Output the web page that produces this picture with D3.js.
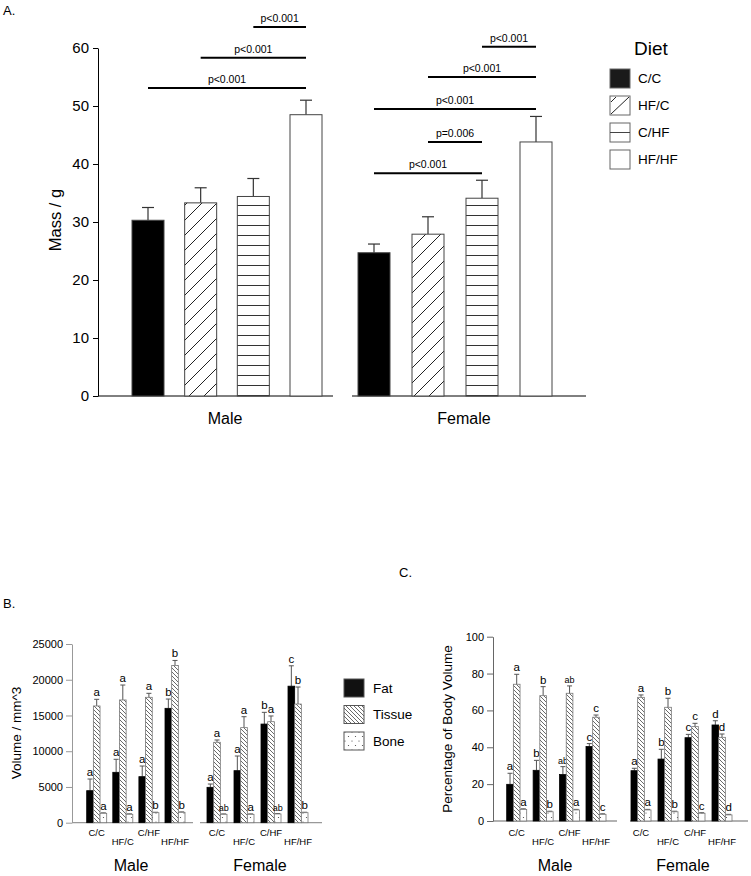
<!DOCTYPE html>
<html><head><meta charset="utf-8">
<script src="https://cdn.jsdelivr.net/npm/d3@7"></script>
<style>body{margin:0;background:#fff} svg{font-family:"Liberation Sans",Arial,sans-serif;display:block}</style>
</head><body><svg id="c" width="751" height="876"></svg>
<script>
// ---------- DATA ----------
const diets = ["C/C","HF/C","C/HF","HF/HF"];
const sexes = ["Male","Female"];
const components = ["Fat","Tissue","Bone"];

// Panel A: body mass (g)
const massMale = [30.3, 33.3, 34.4, 48.5];
const massMaleErr = [2.2, 2.6, 3.1, 2.5];
const massFemale = [24.7, 27.9, 34.1, 43.8];
const massFemaleErr = [1.5, 3.0, 3.1, 4.4];
const massTicks = [0, 10, 20, 30, 40, 50, 60];
// [from, to, label, level (g)]
const sigMale = [["C/HF","HF/HF","p<0.001",63.6],["HF/C","HF/HF","p<0.001",58.3],["C/C","HF/HF","p<0.001",53.1]];
const sigFemale = [["C/HF","HF/HF","p<0.001",60.2],["HF/C","HF/HF","p<0.001",55.0],["C/C","HF/HF","p<0.001",49.5],["HF/C","C/HF","p=0.006",43.8],["C/C","C/HF","p<0.001",38.4]];

// Panel B: volume (mm^3)
const volMaleFat = [4480, 7050, 6440, 16000];
const volMaleFatErr = [1630, 1820, 1490, 1300];
const volMaleTissue = [16330, 17170, 17540, 22000];
const volMaleTissueErr = [930, 2090, 560, 700];
const volMaleBone = [1315, 1175, 1400, 1450];
const volMaleBoneErr = [60, 60, 60, 60];
const volFemaleFat = [4950, 7280, 13800, 19100];
const volFemaleFatErr = [460, 2050, 1640, 2850];
const volFemaleTissue = [11250, 13300, 14130, 16600];
const volFemaleTissueErr = [320, 1530, 800, 2380];
const volFemaleBone = [1170, 1170, 1220, 1400];
const volFemaleBoneErr = [60, 60, 60, 60];
const volTicks = [0, 5000, 10000, 15000, 20000, 25000];
const volLetMaleFat = ["a","a","a","b"], volLetMaleTissue = ["a","a","a","b"], volLetMaleBone = ["a","a","b","b"];
const volLetFemaleFat = ["a","a","b","c"], volLetFemaleTissue = ["a","a","a","b"], volLetFemaleBone = ["ab","a","ab","b"];

// Panel C: percentage of body volume
const pctMaleFat = [19.9, 27.5, 25.2, 40.4];
const pctMaleFatErr = [6.0, 5.4, 4.3, 1.6];
const pctMaleTissue = [74.2, 68.0, 69.3, 56.3];
const pctMaleTissueErr = [5.4, 4.9, 4.0, 1.2];
const pctMaleBone = [6.3, 5.0, 6.0, 3.6];
const pctMaleBoneErr = [0.3, 0.3, 0.3, 0.3];
const pctFemaleFat = [27.3, 33.6, 45.2, 52.1];
const pctFemaleFatErr = [1.3, 5.3, 1.8, 2.3];
const pctFemaleTissue = [67.1, 61.7, 51.2, 45.4];
const pctFemaleTissueErr = [1.3, 4.9, 1.8, 1.8];
const pctFemaleBone = [6.0, 5.0, 4.2, 3.3];
const pctFemaleBoneErr = [0.3, 0.3, 0.3, 0.3];
const pctTicks = [0, 20, 40, 60, 80, 100];
const pctLetMaleFat = ["a","b","ab","c"], pctLetMaleTissue = ["a","b","ab","c"], pctLetMaleBone = ["a","b","a","c"];
const pctLetFemaleFat = ["a","b","c","d"], pctLetFemaleTissue = ["a","b","c","d"], pctLetFemaleBone = ["a","b","c","d"];

// ---------- SETUP ----------
const svg = d3.select("#c");
svg.append("rect").attr("width",751).attr("height",876).attr("fill","#fff");
const defs = svg.append("defs");
function pattern(id,w,h){const p=defs.append("pattern").attr("id",id).attr("patternUnits","userSpaceOnUse").attr("width",w).attr("height",h);p.append("rect").attr("width",w).attr("height",h).attr("fill","#fff");return p;}
pattern("diagA",15,15).append("path").attr("d","M0,15L15,0M-2,2L2,-2M13,17L17,13").attr("stroke","#222").attr("stroke-width",1);
pattern("horA",10,10).append("path").attr("d","M0,5.5H10").attr("stroke","#333").attr("stroke-width",1);
pattern("tis",4,4).append("path").attr("d","M0,0L4,4M-1,3L1,5M3,-1L5,1").attr("stroke","#444").attr("stroke-width",0.8);
const pd = pattern("dots",7,9);
pd.append("circle").attr("cx",2).attr("cy",3).attr("r",0.6).attr("fill","#444");
pd.append("circle").attr("cx",5.5).attr("cy",7.5).attr("r",0.6).attr("fill","#444");

function txt(g,x,y,s,size,anchor){return g.append("text").attr("x",x).attr("y",y).attr("font-size",size).attr("text-anchor",anchor||"start").attr("fill","#000").text(s);}

// ---------- PANEL A ----------
const gA = svg.append("g");
txt(gA,3,15,"A.",13);
const yA = d3.scaleLinear().domain([0,60]).range([396,48]);
const xA = {Male: d3.scalePoint().domain(diets).range([148,306]), Female: d3.scalePoint().domain(diets).range([374,536])};
const fillsA = ["#000","url(#diagA)","url(#horA)","#fff"];
const massData = {Male:[massMale,massMaleErr], Female:[massFemale,massFemaleErr]};
const axA = gA.append("g").attr("transform","translate(98,0)").call(d3.axisLeft(yA).tickValues(massTicks).tickSize(5).tickSizeOuter(0).tickPadding(4));
axA.selectAll("text").attr("font-size",15).attr("font-family","Liberation Sans, Arial");
axA.selectAll("line,path").attr("stroke","#000");
gA.append("text").attr("transform","translate(55,220) rotate(-90)").attr("text-anchor","middle").attr("dy","0.35em").attr("font-size",16.5).text("Mass / g");
const baseA = {Male:[98,333], Female:[352,586]};
const sexLabelA = {Male:225, Female:464};
sexes.forEach(s=>{
  const [vals,errs]=massData[s]; const x=xA[s];
  gA.append("line").attr("x1",baseA[s][0]).attr("x2",baseA[s][1]).attr("y1",yA(0)).attr("y2",yA(0)).attr("stroke","#000").attr("stroke-width",1);
  diets.forEach((d,i)=>{
    const cx=x(d);
    gA.append("line").attr("x1",cx).attr("x2",cx).attr("y1",yA(vals[i])).attr("y2",yA(vals[i]+errs[i])).attr("stroke","#333").attr("stroke-width",1.2);
    gA.append("line").attr("x1",cx-6).attr("x2",cx+6).attr("y1",yA(vals[i]+errs[i])).attr("y2",yA(vals[i]+errs[i])).attr("stroke","#333").attr("stroke-width",1.2);
    gA.append("rect").attr("x",cx-16).attr("y",yA(vals[i])).attr("width",32).attr("height",yA(0)-yA(vals[i])).attr("fill",fillsA[i]).attr("stroke","#444").attr("stroke-width",1);
  });
  txt(gA,sexLabelA[s],424,s,16,"middle");
});
const sigs = {Male:sigMale, Female:sigFemale};
sexes.forEach(s=>{
  const x=xA[s];
  sigs[s].forEach(([a,b,lab,lev])=>{
    const x1=x(a), x2=x(b), yy=yA(lev);
    gA.append("line").attr("x1",x1).attr("x2",x2).attr("y1",yy).attr("y2",yy).attr("stroke","#000").attr("stroke-width",2);
    txt(gA,(x1+x2)/2,yy-5,lab,10.5,"middle");
  });
});
// legend A
const legA = gA.append("g");
txt(legA,651,55,"Diet",19,"middle");
const legRowsA = d3.scalePoint().domain(diets).range([69,150]);
diets.forEach((d,i)=>{
  const y=legRowsA(d), x=610, w=20, h=19;
  legA.append("rect").attr("x",x).attr("y",y).attr("width",w).attr("height",h).attr("fill",i===0?"#1a1a1a":"#fff").attr("stroke","#666").attr("stroke-width",1);
  if(i===1){legA.append("path").attr("d",`M${x+1},${y+h-1}L${x+w-1},${y+1}M${x+1},${y+6}L${x+6},${y+1}`).attr("stroke","#222");}
  if(i===2){legA.append("path").attr("d",`M${x},${y+h/2}H${x+w}`).attr("stroke","#444");}
  txt(legA,638,y+h/2,d,13.5).attr("dy","0.36em");
});

// ---------- grouped panels ----------
function grouped(cfg){
  const g = svg.append("g");
  const y = cfg.y;
  const ax = g.append("g").attr("transform",`translate(${cfg.axisX},0)`).call(d3.axisLeft(y).tickValues(cfg.ticks).tickSize(6).tickSizeOuter(0).tickPadding(3).tickFormat(d3.format("d")));
  ax.selectAll("text").attr("font-size",cfg.tickFont).attr("font-family","Liberation Sans, Arial");
  ax.selectAll("line,path").attr("stroke",cfg.axisColor);
  g.append("text").attr("transform",`translate(${cfg.ylabX},${cfg.ylabY}) rotate(-90)`).attr("text-anchor","middle").attr("dy","0.35em").attr("font-size",13.5).text(cfg.ylab);
  const inner = d3.scaleBand().domain(components).range([-10,10]);
  const fills = {Fat:"#000", Tissue:"url(#tis)", Bone:"url(#dots)"};
  sexes.forEach(s=>{
    const x = cfg.x[s];
    g.append("line").attr("x1",cfg.base[s][0]).attr("x2",cfg.base[s][1]).attr("y1",y(0)).attr("y2",y(0)).attr("stroke",cfg.axisColor).attr("stroke-width",1.2);
    diets.forEach((d,i)=>{
      components.forEach(c=>{
        const v=cfg.data[s][c][0][i], e=cfg.data[s][c][1][i], L=cfg.data[s][c][2][i];
        const bx = x(d)+inner(c), bw=inner.bandwidth(), cx=bx+bw/2;
        g.append("line").attr("x1",cx).attr("x2",cx).attr("y1",y(v)).attr("y2",y(v+e)).attr("stroke","#555").attr("stroke-width",1);
        g.append("line").attr("x1",cx-2.5).attr("x2",cx+2.5).attr("y1",y(v+e)).attr("y2",y(v+e)).attr("stroke","#555").attr("stroke-width",1);
        g.append("rect").attr("x",bx).attr("y",y(v)).attr("width",bw).attr("height",y(0)-y(v)).attr("fill",fills[c]).attr("stroke",c==="Fat"?"#000":"#777").attr("stroke-width",0.8);
        txt(g,cx,y(v+e)-3,L,L.length>1?9:11.5,"middle");
      });
      txt(g,x(d),i%2===0?836:845,d,9.5,"middle");
    });
    txt(g,cfg.sexX[s],871,s,16,"middle");
  });
  return g;
}

// Panel B
txt(svg,3,608,"B.",13);
grouped({
  y: d3.scaleLinear().domain([0,25000]).range([822.7,644]),
  ticks: volTicks, axisX:72, axisColor:"#999", tickFont:11,
  ylab:"Volume / mm^3", ylabX:16, ylabY:733,
  x:{Male:d3.scalePoint().domain(diets).range([96.7,175]), Female:d3.scalePoint().domain(diets).range([217,298])},
  base:{Male:[72,193], Female:[200,322]},
  sexX:{Male:131, Female:260},
  data:{
    Male:{Fat:[volMaleFat,volMaleFatErr,volLetMaleFat],Tissue:[volMaleTissue,volMaleTissueErr,volLetMaleTissue],Bone:[volMaleBone,volMaleBoneErr,volLetMaleBone]},
    Female:{Fat:[volFemaleFat,volFemaleFatErr,volLetFemaleFat],Tissue:[volFemaleTissue,volFemaleTissueErr,volLetFemaleTissue],Bone:[volFemaleBone,volFemaleBoneErr,volLetFemaleBone]}
  }
});
// legend B
const legB = svg.append("g");
const legRowsB = d3.scalePoint().domain(components).range([679,732]);
const legFillsB = {Fat:"#111", Tissue:"url(#tis)", Bone:"url(#dots)"};
components.forEach(c=>{
  const yy=legRowsB(c);
  legB.append("rect").attr("x",344).attr("y",yy).attr("width",20).attr("height",18).attr("fill",legFillsB[c]).attr("stroke","#555").attr("stroke-width",1);
  txt(legB,373,yy+9,c,13.5).attr("dy","0.36em");
});

// Panel C
txt(svg,399,577,"C.",13);
grouped({
  y: d3.scaleLinear().domain([0,100]).range([821,636.7]),
  ticks: pctTicks, axisX:493, axisColor:"#666", tickFont:11,
  ylab:"Percentage of Body Volume", ylabX:447, ylabY:729,
  x:{Male:d3.scalePoint().domain(diets).range([516.7,596]), Female:d3.scalePoint().domain(diets).range([641,722])},
  base:{Male:[493,617], Female:[630,748]},
  sexX:{Male:555, Female:683},
  data:{
    Male:{Fat:[pctMaleFat,pctMaleFatErr,pctLetMaleFat],Tissue:[pctMaleTissue,pctMaleTissueErr,pctLetMaleTissue],Bone:[pctMaleBone,pctMaleBoneErr,pctLetMaleBone]},
    Female:{Fat:[pctFemaleFat,pctFemaleFatErr,pctLetFemaleFat],Tissue:[pctFemaleTissue,pctFemaleTissueErr,pctLetFemaleTissue],Bone:[pctFemaleBone,pctFemaleBoneErr,pctLetFemaleBone]}
  }
});
</script></body></html>
